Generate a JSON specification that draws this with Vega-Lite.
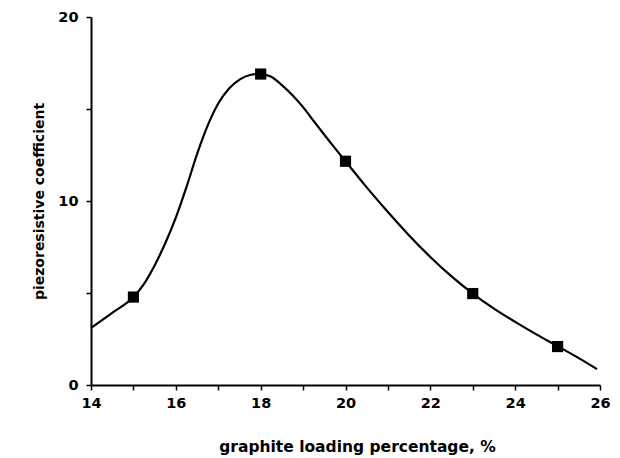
{
  "$schema": "https://vega.github.io/schema/vega-lite/v6.json",
  "width": 509,
  "height": 368,
  "autosize": "none",
  "padding": {"left": 91, "top": 17, "right": 20, "bottom": 73},
  "background": "white",
  "config": {"view": {"stroke": null}, "font": "DejaVu Sans"},
  "datasets": {
    "curve": [
      {"x": 14.0, "y": 3.1},
      {"x": 14.5, "y": 3.92},
      {"x": 15.0, "y": 4.78},
      {"x": 15.25, "y": 5.5},
      {"x": 15.5, "y": 6.5},
      {"x": 15.75, "y": 7.7},
      {"x": 16.0, "y": 9.1},
      {"x": 16.25, "y": 10.75},
      {"x": 16.5, "y": 12.55},
      {"x": 16.75, "y": 14.1},
      {"x": 17.0, "y": 15.3},
      {"x": 17.25, "y": 16.1},
      {"x": 17.5, "y": 16.6},
      {"x": 17.75, "y": 16.85},
      {"x": 18.0, "y": 16.9},
      {"x": 18.25, "y": 16.75},
      {"x": 18.5, "y": 16.3},
      {"x": 18.75, "y": 15.75},
      {"x": 19.0, "y": 15.1},
      {"x": 19.25, "y": 14.35},
      {"x": 19.5, "y": 13.6},
      {"x": 19.75, "y": 12.87},
      {"x": 20.0, "y": 12.16},
      {"x": 20.5, "y": 10.74},
      {"x": 21.0, "y": 9.4},
      {"x": 21.5, "y": 8.13},
      {"x": 22.0, "y": 6.96},
      {"x": 22.5, "y": 5.9},
      {"x": 23.0, "y": 4.97},
      {"x": 23.5, "y": 4.15},
      {"x": 24.0, "y": 3.43},
      {"x": 24.5, "y": 2.75},
      {"x": 25.0, "y": 2.11},
      {"x": 25.5, "y": 1.46},
      {"x": 25.93, "y": 0.86}
    ],
    "points": [
      {"x": 15, "y": 4.78},
      {"x": 18, "y": 16.9},
      {"x": 20, "y": 12.16},
      {"x": 23, "y": 4.97},
      {"x": 25, "y": 2.09}
    ]
  },
  "encoding": {
    "x": {
      "field": "x",
      "type": "quantitative",
      "scale": {"domain": [14, 26], "nice": false, "zero": false},
      "axis": {
        "title": "graphite loading percentage, %",
        "values": [14, 15, 16, 17, 18, 19, 20, 21, 22, 23, 24, 25, 26],
        "labelExpr": "datum.value % 2 === 0 ? datum.label : ''",
        "labelOverlap": false,
        "labelFlush": false,
        "grid": false,
        "tickSize": 5,
        "tickColor": "black",
        "tickWidth": 1.5,
        "domainColor": "black",
        "domainWidth": 2,
        "labelFont": "DejaVu Sans",
        "labelFontSize": 14.5,
        "labelFontWeight": "bold",
        "labelColor": "black",
        "labelPadding": 6,
        "titleFont": "DejaVu Sans",
        "titleFontSize": 15.5,
        "titleFontWeight": "bold",
        "titleColor": "black",
        "titlePadding": 30,
        "titleX": 266
      }
    },
    "y": {
      "field": "y",
      "type": "quantitative",
      "scale": {"domain": [0, 20], "nice": false},
      "axis": {
        "title": "piezoresistive coefficient",
        "values": [0, 5, 10, 15, 20],
        "labelExpr": "datum.value % 10 === 0 ? datum.label : ''",
        "labelOverlap": false,
        "labelFlush": false,
        "grid": false,
        "tickSize": 5,
        "tickColor": "black",
        "tickWidth": 1.5,
        "domainColor": "black",
        "domainWidth": 2,
        "labelFont": "DejaVu Sans",
        "labelFontSize": 14.5,
        "labelFontWeight": "bold",
        "labelColor": "black",
        "labelPadding": 8,
        "titleFont": "DejaVu Sans",
        "titleFontSize": 14,
        "titleFontWeight": "bold",
        "titleColor": "black",
        "titlePadding": 11
      }
    }
  },
  "layer": [
    {
      "data": {"name": "curve"},
      "mark": {"type": "line", "interpolate": "monotone", "color": "black", "strokeWidth": 2.2}
    },
    {
      "data": {"name": "points"},
      "mark": {"type": "point", "shape": "square", "filled": true, "color": "black", "opacity": 1, "size": 125}
    }
  ]
}
